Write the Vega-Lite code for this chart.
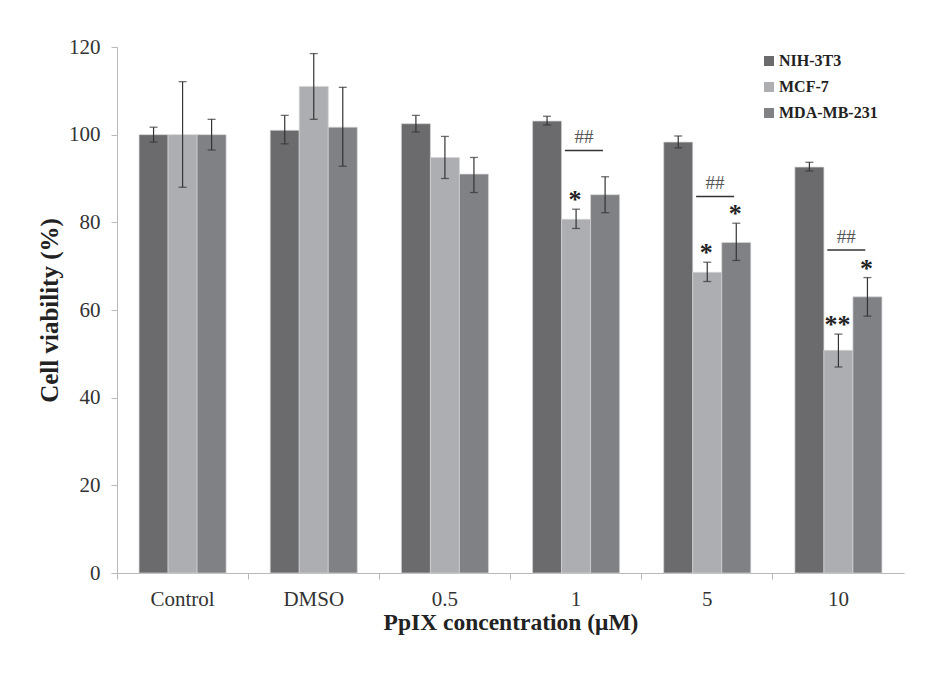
{
  "$schema": "https://vega.github.io/schema/vega-lite/v6.json",
  "width": 787,
  "height": 526,
  "autosize": "none",
  "padding": {"left": 117, "top": 47, "right": 21, "bottom": 101},
  "background": "white",
  "config": {
    "view": {"stroke": null},
    "font": "Liberation Serif",
    "axis": {
      "labelFont": "Liberation Serif",
      "titleFont": "Liberation Serif",
      "labelColor": "#333333",
      "titleColor": "#222222",
      "domainColor": "#b8b8b8",
      "tickColor": "#b8b8b8",
      "grid": false
    }
  },
  "datasets": {
    "bars": [
      {"conc": "Control", "series": "NIH-3T3", "mean": 100.0, "lo": 98.3, "hi": 101.7},
      {"conc": "Control", "series": "MCF-7", "mean": 100.0, "lo": 88.0, "hi": 112.1},
      {"conc": "Control", "series": "MDA-MB-231", "mean": 100.0, "lo": 96.5, "hi": 103.5},
      {"conc": "DMSO", "series": "NIH-3T3", "mean": 101.0, "lo": 97.9, "hi": 104.4},
      {"conc": "DMSO", "series": "MCF-7", "mean": 111.0, "lo": 103.5, "hi": 118.5},
      {"conc": "DMSO", "series": "MDA-MB-231", "mean": 101.7, "lo": 92.8, "hi": 110.8},
      {"conc": "0.5", "series": "NIH-3T3", "mean": 102.5, "lo": 100.6, "hi": 104.4},
      {"conc": "0.5", "series": "MCF-7", "mean": 94.8, "lo": 90.0, "hi": 99.6},
      {"conc": "0.5", "series": "MDA-MB-231", "mean": 91.0, "lo": 86.8, "hi": 94.8},
      {"conc": "1", "series": "NIH-3T3", "mean": 103.1, "lo": 102.2, "hi": 104.2},
      {"conc": "1", "series": "MCF-7", "mean": 80.7, "lo": 78.6, "hi": 83.0},
      {"conc": "1", "series": "MDA-MB-231", "mean": 86.3, "lo": 82.2, "hi": 90.4},
      {"conc": "5", "series": "NIH-3T3", "mean": 98.3, "lo": 97.0, "hi": 99.7},
      {"conc": "5", "series": "MCF-7", "mean": 68.6, "lo": 66.5, "hi": 70.9},
      {"conc": "5", "series": "MDA-MB-231", "mean": 75.4, "lo": 71.3, "hi": 79.8},
      {"conc": "10", "series": "NIH-3T3", "mean": 92.6, "lo": 91.7, "hi": 93.7},
      {"conc": "10", "series": "MCF-7", "mean": 50.8, "lo": 47.0, "hi": 54.5},
      {"conc": "10", "series": "MDA-MB-231", "mean": 63.0, "lo": 58.6, "hi": 67.4}
    ],
    "stars": [
      {"conc": "1", "series": "MCF-7", "label": "*", "y": 83.0},
      {"conc": "5", "series": "MCF-7", "label": "*", "y": 70.9},
      {"conc": "5", "series": "MDA-MB-231", "label": "*", "y": 79.8},
      {"conc": "10", "series": "MCF-7", "label": "**", "y": 54.5},
      {"conc": "10", "series": "MDA-MB-231", "label": "*", "y": 67.4}
    ],
    "sig": [
      {"conc": "1", "label": "##", "y": 96.4},
      {"conc": "5", "label": "##", "y": 85.9},
      {"conc": "10", "label": "##", "y": 73.7}
    ]
  },
  "layer": [
    {
      "data": {"name": "bars"},
      "mark": {"type": "bar", "stroke": "#d4d4d4", "strokeWidth": 0.7},
      "encoding": {
        "x": {
          "field": "conc", "type": "nominal",
          "scale": {"domain": ["Control", "DMSO", "0.5", "1", "5", "10"], "paddingInner": 0, "paddingOuter": 0},
          "axis": {
            "title": "PpIX concentration (μM)",
            "labelAngle": 0,
            "labelFontSize": 21,
            "labelPadding": 9,
            "tickSize": 6,
            "bandPosition": 0,
            "titleFontSize": 23.5,
            "titleFontWeight": "bold",
            "titlePadding": 1
          }
        },
        "xOffset": {
          "field": "series", "type": "nominal",
          "scale": {"domain": ["NIH-3T3", "MCF-7", "MDA-MB-231"], "paddingInner": 0, "paddingOuter": 0.76}
        },
        "y": {
          "field": "mean", "type": "quantitative",
          "scale": {"domain": [0, 120], "nice": false},
          "axis": {
            "title": "Cell viability (%)",
            "values": [0, 20, 40, 60, 80, 100, 120],
            "labelFontSize": 21,
            "labelPadding": 11,
            "tickSize": 6,
            "titleFontSize": 25,
            "titleFontWeight": "bold",
            "titlePadding": 6
          }
        },
        "color": {
          "field": "series", "type": "nominal",
          "scale": {"domain": ["NIH-3T3", "MCF-7", "MDA-MB-231"], "range": ["#6b6b6e", "#adaeb1", "#808185"]},
          "legend": {
            "title": null,
            "orient": "none",
            "legendX": 644,
            "legendY": 6,
            "symbolType": "square",
            "symbolSize": 100,
            "symbolStrokeWidth": 0,
            "labelFont": "Liberation Serif",
            "labelFontSize": 16,
            "labelFontWeight": "bold",
            "labelColor": "#222222",
            "rowPadding": 10,
            "labelOffset": 2
          }
        }
      }
    },
    {
      "data": {"name": "bars"},
      "mark": {"type": "rule", "color": "#333333", "strokeWidth": 1.2},
      "encoding": {
        "x": {"field": "conc", "type": "nominal"},
        "xOffset": {"field": "series", "type": "nominal"},
        "y": {"field": "lo", "type": "quantitative"},
        "y2": {"field": "hi"}
      }
    },
    {
      "data": {"name": "bars"},
      "mark": {"type": "tick", "color": "#333333", "thickness": 1.3, "size": 8},
      "encoding": {
        "x": {"field": "conc", "type": "nominal"},
        "xOffset": {"field": "series", "type": "nominal"},
        "y": {"field": "lo", "type": "quantitative"}
      }
    },
    {
      "data": {"name": "bars"},
      "mark": {"type": "tick", "color": "#333333", "thickness": 1.3, "size": 8},
      "encoding": {
        "x": {"field": "conc", "type": "nominal"},
        "xOffset": {"field": "series", "type": "nominal"},
        "y": {"field": "hi", "type": "quantitative"}
      }
    },
    {
      "data": {"name": "stars"},
      "mark": {"type": "text", "font": "Liberation Serif", "fontSize": 26, "fontWeight": "bold", "color": "#222222", "baseline": "alphabetic", "dy": -1, "dx": -1},
      "encoding": {
        "x": {"field": "conc", "type": "nominal"},
        "xOffset": {"field": "series", "type": "nominal"},
        "y": {"field": "y", "type": "quantitative"},
        "text": {"field": "label"}
      }
    },
    {
      "data": {"name": "sig"},
      "mark": {"type": "rule", "color": "#333333", "strokeWidth": 1.5},
      "encoding": {
        "x": {"field": "conc", "type": "nominal", "bandPosition": 0.415},
        "x2": {"field": "conc", "bandPosition": 0.705},
        "y": {"field": "y", "type": "quantitative"}
      }
    },
    {
      "data": {"name": "sig"},
      "mark": {"type": "text", "font": "Liberation Serif", "fontSize": 19, "color": "#555555", "baseline": "alphabetic", "dy": -7},
      "encoding": {
        "x": {"field": "conc", "type": "nominal", "bandPosition": 0.56},
        "y": {"field": "y", "type": "quantitative"},
        "text": {"field": "label"}
      }
    }
  ]
}
